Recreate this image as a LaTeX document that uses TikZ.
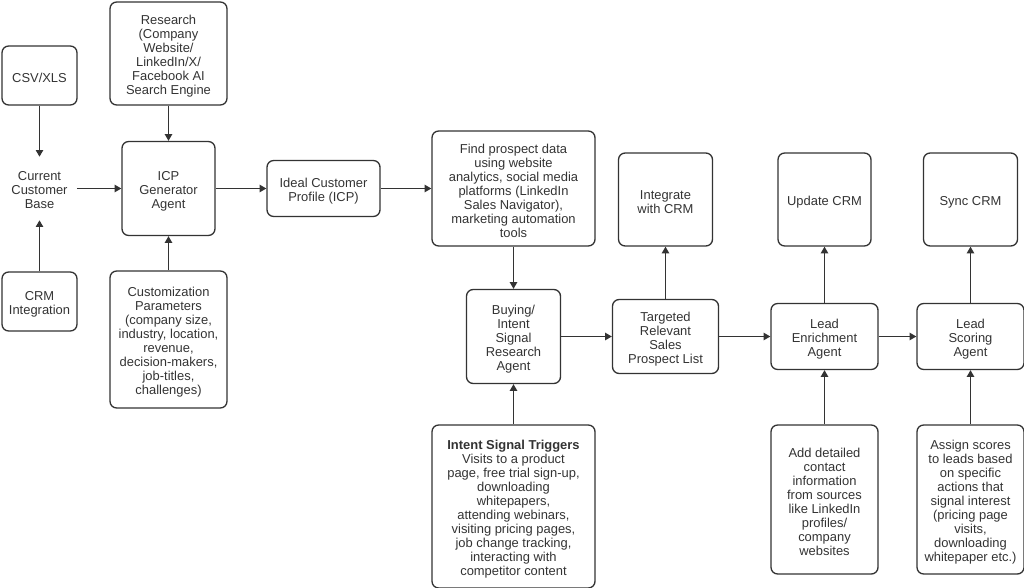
\documentclass[tikz,border=0pt]{standalone}
\usepackage{fontspec}
\setmainfont{Liberation Sans}
\usetikzlibrary{arrows.meta}
\definecolor{ink}{HTML}{333333}
\newcommand{\topfix}{\rule{0pt}{11.2pt}}
\tikzset{
  x=0.75pt,y=-0.75pt,
  txt/.style={align=center,inner sep=0pt,text=ink,font=\fontsize{9.7pt}{10.5pt}\selectfont},
  bx/.style n args={2}{txt,draw=ink,line width=1pt,rounded corners=5pt,minimum width=#1*0.75pt,minimum height=#2*0.75pt},
  conn/.style={draw=ink,line width=1pt,-{Triangle[length=5pt,width=5.5pt]}},
}
\begin{document}
\begin{tikzpicture}
\useasboundingbox (0,0) rectangle (1024,588);
\node[bx={75}{59}] (csv) at (39.5,75.5) {\topfix CSV/XLS};
\node[bx={117}{103}] (research) at (168.5,53.5) {\topfix Research\\(Company\\Website/\\LinkedIn/X/\\Facebook AI\\Search Engine};
\node[txt,minimum width=55.5pt,minimum height=47.25pt] (base) at (39.5,188.5) {\rule{0pt}{8.5pt}Current\\Customer\\Base};
\node[bx={93}{94}] (icp) at (168.5,188.5) {\topfix ICP\\Generator\\Agent};
\node[bx={113}{56}] (ideal) at (323.5,188.5) {\topfix Ideal Customer\\Profile (ICP)};
\node[bx={75}{59}] (crm) at (39.5,301.5) {\topfix CRM\\Integration};
\node[bx={117}{137}] (custom) at (168.5,339.5) {\topfix Customization\\Parameters\\(company size,\\industry, location,\\revenue,\\decision-makers,\\job-titles,\\challenges)};
\node[bx={163}{115}] (find) at (513.5,188.5) {\topfix Find prospect data\\using website\\analytics, social media\\platforms (LinkedIn\\Sales Navigator),\\marketing automation\\tools};
\node[bx={94}{94}] (buying) at (513.5,336.5) {\topfix Buying/\\Intent\\Signal\\Research\\Agent};
\node[bx={163}{163}] (intent) at (513.5,506.5) {\topfix\textbf{Intent Signal Triggers}\\Visits to a product\\page, free trial sign-up,\\downloading\\whitepapers,\\attending webinars,\\visiting pricing pages,\\job change tracking,\\interacting with\\competitor content};
\node[bx={94}{93}] (integrate) at (665.5,199.5) {\topfix Integrate\\with CRM};
\node[bx={106}{74}] (targeted) at (665.5,336.5) {\topfix Targeted\\Relevant\\Sales\\Prospect List};
\node[bx={93}{93}] (update) at (824.5,199.5) {\topfix Update CRM};
\node[bx={107}{66}] (enrich) at (824.5,336.5) {\topfix Lead\\Enrichment\\Agent};
\node[bx={107}{149}] (add) at (824.5,499.5) {\topfix Add detailed\\contact\\information\\from sources\\like LinkedIn\\profiles/\\company\\websites};
\node[bx={94}{93}] (sync) at (970.5,199.5) {\topfix Sync CRM};
\node[bx={107}{66}] (scoring) at (970.5,336.5) {\topfix Lead\\Scoring\\Agent};
\node[bx={107}{149}] (assign) at (970.5,499.5) {\topfix Assign scores\\to leads based\\on specific\\actions that\\signal interest\\(pricing page\\visits,\\downloading\\whitepaper etc.)};
\draw[conn] (csv) -- (base);
\draw[conn] (crm) -- (base);
\draw[conn] (base) -- (icp);
\draw[conn] (research) -- (icp);
\draw[conn] (custom) -- (icp);
\draw[conn] (icp) -- (ideal);
\draw[conn] (ideal) -- (find);
\draw[conn] (find) -- (buying);
\draw[conn] (intent) -- (buying);
\draw[conn] (buying) -- (targeted);
\draw[conn] (targeted) -- (integrate);
\draw[conn] (targeted) -- (enrich);
\draw[conn] (enrich) -- (update);
\draw[conn] (add) -- (enrich);
\draw[conn] (enrich) -- (scoring);
\draw[conn] (scoring) -- (sync);
\draw[conn] (assign) -- (scoring);
\end{tikzpicture}
\end{document}
